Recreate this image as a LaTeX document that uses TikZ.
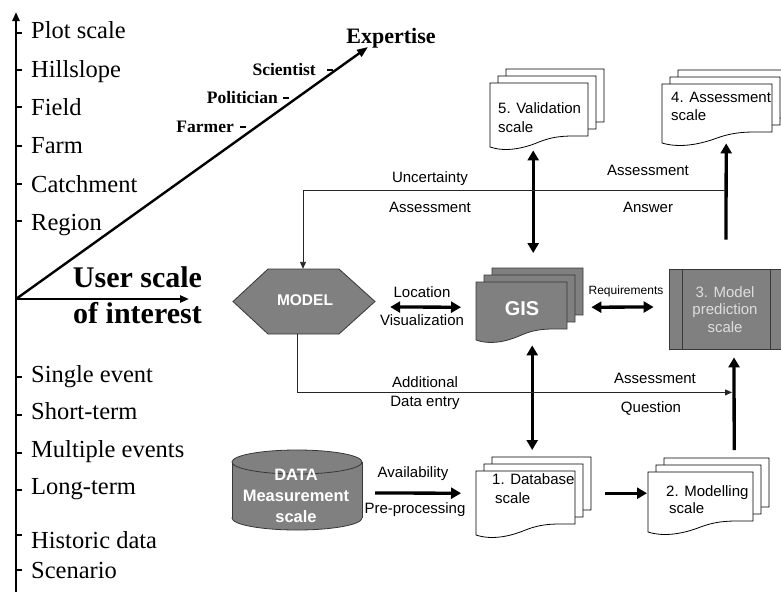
\documentclass[tikz,border=0pt]{standalone}
\usepackage{fontspec}
\setmainfont{Liberation Serif}
\newfontfamily\sansfnt{Liberation Sans}
\usetikzlibrary{arrows.meta,calc}

\definecolor{boxgray}{RGB}{128,128,128}
\definecolor{edgegray}{RGB}{55,55,55}
\definecolor{paletext}{RGB}{222,222,222}

\tikzset{
  axisline/.style={line width=2.4pt,-{Triangle[length=9pt,width=7pt]}},
  expline/.style={line width=2.4pt,-{Triangle[length=11pt,width=8pt]}},
  axtick/.style={line width=2pt},
  roletick/.style={line width=2.6pt},
  scalelbl/.style={anchor=base west,inner sep=0pt,font=\fontsize{24.5}{26}\selectfont},
  userlbl/.style={anchor=base,inner sep=0pt,font=\fontsize{30}{32}\selectfont\bfseries},
  rolelbl/.style={anchor=base east,inner sep=0pt,font=\fontsize{17.5}{19}\selectfont\bfseries},
  flowlbl/.style={inner sep=0pt,font=\sansfnt\fontsize{15}{17}\selectfont,text height=10.5pt,text depth=0pt},
  doclbl/.style={anchor=base west,inner sep=0pt,font=\sansfnt\fontsize{15}{17}\selectfont},
  paper/.style={draw=black,fill=white,line width=0.8pt},
  graypaper/.style={draw=edgegray,fill=boxgray,line width=0.8pt},
  frontpage/.style={inner sep=0pt,anchor=north west},
  bigarrow/.style={line width=3.3pt,-{Triangle[length=10pt,width=11pt]}},
  bigdouble/.style={line width=3.3pt,{Triangle[length=10pt,width=11pt]}-{Triangle[length=10pt,width=11pt]}},
  thinarrow/.style={line width=0.9pt,draw=black!85,-{Triangle[length=7pt,width=6pt]}},
  whitebold/.style={inner sep=0pt,text=white,font=\sansfnt\bfseries},
}

% one page of a flowchart "document": #1 x, #2 y (top left), #3 width, #4 height, #5 style
\newcommand\docpage[5]{%
  \draw[#5] (#1,#2) -- ({#1+#3},#2) -- ({#1+#3},{#2+#4-11})
    .. controls ({#1+0.8*#3},{#2+#4-11}) and ({#1+0.68*#3},{#2+#4-12}) .. ({#1+0.5*#3},{#2+#4-5})
    .. controls ({#1+0.33*#3},{#2+#4+2}) and ({#1+0.15*#3},{#2+#4+5}) .. (#1,{#2+#4}) -- cycle;}
% a stack of three pages; the front page gets the node name #1
\newcommand\docstack[6]{%
  \docpage{#2+16}{#3-14}{#4}{#5}{#6}%
  \docpage{#2+8}{#3-7}{#4}{#5}{#6}%
  \docpage{#2}{#3}{#4}{#5}{#6}%
  \node[frontpage,minimum width=#4pt,minimum height=#5pt] (#1) at (#2,#3) {};}

\begin{document}
\begin{tikzpicture}[x=1pt,y=-1pt]
\useasboundingbox (0,0) rectangle (781,592);

% ---------- user scale of interest: axes ----------
\coordinate (O) at (16,299);
\coordinate (ytop) at (16,12);
\coordinate (ybot) at (16,592);
\coordinate (xend) at (189,299);
\coordinate (dend) at (368,47);
\draw[axisline] (ybot) -- (ytop);
\draw[axisline] (O) -- (xend);
\draw[expline] (O) -- (dend);

\foreach \t/\b/\k [count=\i] in {Plot scale/38.5/33, Hillslope/77/70, Field/115/107,
    Farm/153.5/146, Catchment/192/184, Region/230/221,
    Single event/382/377, Short-term/419/415, Multiple events/457/453,
    Long-term/494/490, Historic data/548/535, Scenario/578/570}{
  \node[scalelbl] (lbl\i) at (31,\b) {\t};
  \draw[axtick] (16,\k) -- (22,\k);
}

\node[userlbl] (user1) at (137.5,287) {User scale};
\node[userlbl] (user2) at (137.5,323) {of interest};
\node[anchor=base,inner sep=0pt,font=\fontsize{22}{24}\selectfont\bfseries] (expert) at (391,43.5) {Expertise};

\node[rolelbl] (sci) at (316,75) {Scientist};
\draw[roletick] (327,70) -- (333,70);
\node[rolelbl] (pol) at (278,103) {Politician};
\draw[roletick] (283,98) -- (289,98);
\node[rolelbl] (farm) at (234,132) {Farmer};
\draw[roletick] (240,127) -- (246,127);

% ---------- flowchart ----------
% document stacks
\docstack{val}{490}{83}{98}{64}{paper}
\docstack{asm}{662}{84}{110}{59}{paper}
\docstack{gis}{476}{282}{91}{58}{graypaper}
\docstack{db}{476}{471}{99}{64}{paper}
\docstack{mdl}{648}{472}{105}{60}{paper}

\node[doclbl] (valt1) at (498,113) {5. Validation};
\node[doclbl] (valt2) at (498,132) {scale};
\node[doclbl] (asmt1) at (671,102) {4. Assessment};
\node[doclbl] (asmt2) at (671,120) {scale};
\node[doclbl] (dbt1) at (492,484.5) {1. Database};
\node[doclbl] (dbt2) at (495,503.5) {scale};
\node[doclbl] (mdlt1) at (666,496.5) {2. Modelling};
\node[doclbl] (mdlt2) at (669,513.5) {scale};
\node[whitebold,font=\sansfnt\bfseries\fontsize{20}{22}\selectfont] (gist) at (522,309) {GIS};

% model hexagon
\draw[graypaper] (233,301.5) -- (268,269) -- (339,269) -- (375,301.5) -- (339,334) -- (268,334) -- cycle;
\node[inner sep=0pt,minimum width=142pt,minimum height=65pt] (model) at (304,301.5) {};
\node[whitebold,font=\sansfnt\bfseries\fontsize{15.5}{17}\selectfont] (modelt) at (305,300) {MODEL};

% model prediction box (predefined process)
\node[graypaper,inner sep=0pt,minimum width=116pt,minimum height=80pt] (pred) at (727,309) {};
\draw[edgegray,line width=0.8pt] ($(pred.north west)+(14,0)$) -- ($(pred.south west)+(14,0)$);
\draw[edgegray,line width=0.8pt] ($(pred.north east)+(-15,0)$) -- ($(pred.south east)+(-15,0)$);
\node[inner sep=0pt,align=center,text=paletext,font=\sansfnt\fontsize{15}{17.5}\selectfont] (predt) at (725,309.5) {3. Model\\prediction\\scale};

% data cylinder
\filldraw[graypaper] (297,518) ellipse[x radius=65,y radius=12];
\fill[boxgray] (232,462) rectangle (362,518);
\draw[edgegray,line width=0.8pt] (232,462) -- (232,518) (362,462) -- (362,518);
\filldraw[graypaper] (297,462) ellipse[x radius=65,y radius=12];
\node[inner sep=0pt,minimum width=130pt,minimum height=80pt] (data) at (297,490) {};
\node[whitebold,align=center,font=\sansfnt\bfseries\fontsize{16.5}{21}\selectfont] (datat) at (296,496) {DATA\\Measurement\\scale};

% thick connectors
\draw[bigdouble] ($(val.south)+(-6,3)$) -- ($(gis.north)+(11.5,-29)$);
\draw[bigdouble] ($(gis.south)+(10.5,5)$) -- ($(db.north)+(6.5,-21)$);
\draw[bigdouble] ($(model.east)+(15,5.5)$) -- ($(gis.west)+(-15,-4)$);
\draw[bigdouble] ($(gis.east)+(24,-4)$) -- ($(pred.west)+(-15,-2)$);
\draw[bigarrow] ($(data.east)+(13,3)$) -- ($(db.west)+(-15,-10)$);
\draw[bigarrow] ($(db.east)+(30,-10)$) -- ($(mdl.west)+(-1,-9)$);
\draw[bigarrow] ($(mdl.north)+(33.5,-22)$) -- ($(pred.south)+(7,8)$);
\draw[bigarrow] ($(pred.north)+(-1,-29)$) -- ($(asm.south)+(9,0)$);

% thin feedback connectors
\coordinate (j1) at ($(pred.north)+(-1,-78.5)$);
\coordinate (j2) at ($(pred.south)+(5,43)$);
\draw[thinarrow] (j1) -| ($(model.north)+(-1,0)$);
\draw[thinarrow] ($(model.south)+(-7,0)$) |- (j2);

% connector labels
\node[flowlbl] (l1) at (430,177) {Uncertainty};
\node[flowlbl] (l2) at (430,207) {Assessment};
\node[flowlbl] (l3) at (648,170) {Assessment};
\node[flowlbl] (l4) at (648,207) {Answer};
\node[flowlbl] (l5) at (422,292) {Location};
\node[flowlbl] (l6) at (422,320) {Visualization};
\node[flowlbl,font=\sansfnt\fontsize{12}{14}\selectfont,text height=8.6pt] (l7) at (626,290) {Requirements};
\node[flowlbl] (l8) at (425,382) {Additional};
\node[flowlbl] (l9) at (425,401) {Data entry};
\node[flowlbl] (l10) at (655,378) {Assessment};
\node[flowlbl] (l11) at (651,407) {Question};
\node[flowlbl] (l12) at (413,472) {Availability};
\node[flowlbl] (l13) at (415,508) {Pre-processing};
\end{tikzpicture}
\end{document}
